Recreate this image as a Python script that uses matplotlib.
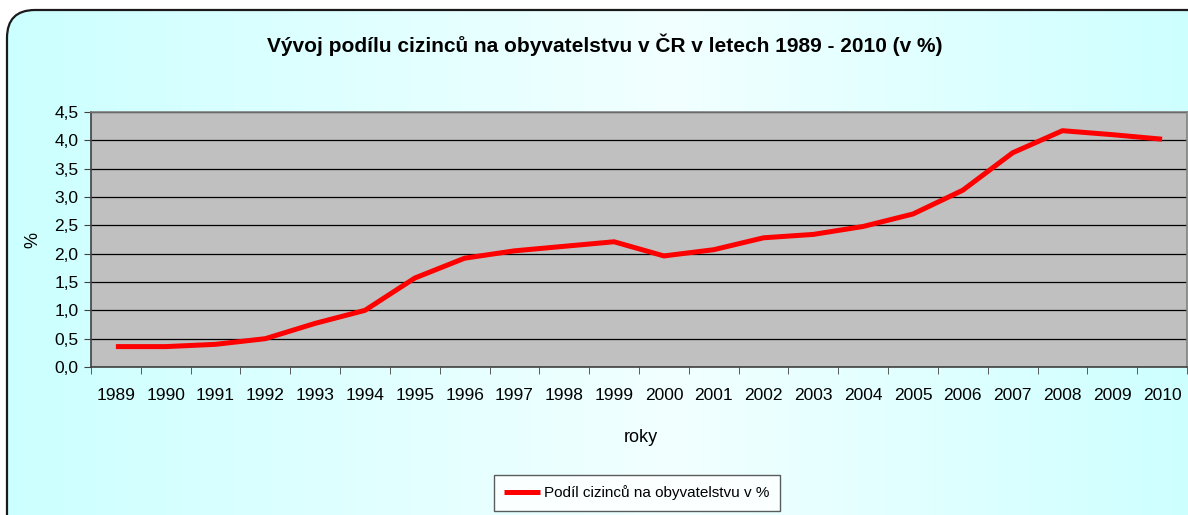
import numpy as np
import matplotlib
matplotlib.use("Agg")
import matplotlib.pyplot as plt
from matplotlib.patches import FancyBboxPatch
from matplotlib.colors import LinearSegmentedColormap

plt.rcParams["font.family"] = ["Liberation Sans Narrow", "Liberation Sans", "DejaVu Sans"]

years = [str(y) for y in range(1989, 2011)]
share = [0.36, 0.36, 0.40, 0.50, 0.77, 1.00, 1.57, 1.92, 2.05, 2.13, 2.21,
         1.96, 2.07, 2.28, 2.34, 2.48, 2.70, 3.12, 3.78, 4.17, 4.10, 4.02]
yticks = [0.0, 0.5, 1.0, 1.5, 2.0, 2.5, 3.0, 3.5, 4.0, 4.5]

W, H = 1188, 515
fig = plt.figure(figsize=(W / 100, H / 100), dpi=100)
fig.patch.set_facecolor("white")

# background panel with horizontal gradient and rounded frame
bg = fig.add_axes([0, 0, 1, 1])
bg.set_xlim(0, W)
bg.set_ylim(H, 0)
bg.axis("off")
cmap = LinearSegmentedColormap.from_list(
    "bg", [(0.0, "#ccffff"), (0.55, "#f2ffff"), (1.0, "#ccffff")])
grad = np.linspace(0, 1, 256).reshape(1, -1)
img = bg.imshow(grad, cmap=cmap, extent=[7, W + 30, H + 30, 10], aspect="auto")
frame = FancyBboxPatch((7, 10), W + 20, H + 20,
                       boxstyle="round,pad=0,rounding_size=28",
                       facecolor="none", edgecolor="#1a1a1a", lw=1.6)
bg.add_patch(frame)
img.set_clip_path(frame)

ax = fig.add_axes([91 / W, 1 - 367 / H, (1187 - 91) / W, (367 - 112) / H])
ax.set_facecolor("#c0c0c0")
x = np.arange(len(years))
ax.plot(x, share, color="#ff0000", lw=3.6, solid_capstyle="butt",
        label="Podíl cizinců na obyvatelstvu v %", zorder=3)
ax.set_xlim(-0.5, len(years) - 0.5)
ax.set_ylim(0, 4.5)
ax.set_yticks(yticks)
ax.set_yticklabels([f"{v:.1f}".replace(".", ",") for v in yticks], fontsize=12.5)
ax.set_xticks(x)
ax.set_xticklabels(years, fontsize=12.5)
ax.set_xticks(np.arange(-0.5, len(years)), minor=True)
ax.tick_params(axis="x", which="major", length=0, pad=15)
ax.tick_params(axis="x", which="minor", length=5, color="#404040")
ax.tick_params(axis="y", length=5, color="#404040", pad=4)
ax.grid(axis="y", color="black", lw=0.9)
ax.set_axisbelow(True)
for s in ["left", "bottom"]:
    ax.spines[s].set_color("#404040")
for s in ["top", "right"]:
    ax.spines[s].set_color("#808080")
for s in ax.spines.values():
    s.set_linewidth(1.2)

fig.text(605 / W, 1 - 45 / H,
         "Vývoj podílu cizinců na obyvatelstvu v ČR v letech 1989 - 2010 (v %)",
         ha="center", va="center", fontsize=15, fontweight="bold")
fig.text(33 / W, 1 - 240 / H, "%", rotation=90, ha="center", va="center", fontsize=13)
fig.text(641 / W, 1 - 437 / H, "roky", ha="center", va="center", fontsize=13)

leg = fig.legend(loc="center", bbox_to_anchor=(637 / W, 1 - 493 / H), fontsize=11,
                 frameon=True, fancybox=False, handlelength=2.3, handletextpad=0.3,
                 borderpad=0.7, borderaxespad=0)
leg.get_frame().set_edgecolor("#333333")
leg.get_frame().set_facecolor("white")
leg.get_frame().set_linewidth(1.0)

fig.savefig("out.png", dpi=100)
